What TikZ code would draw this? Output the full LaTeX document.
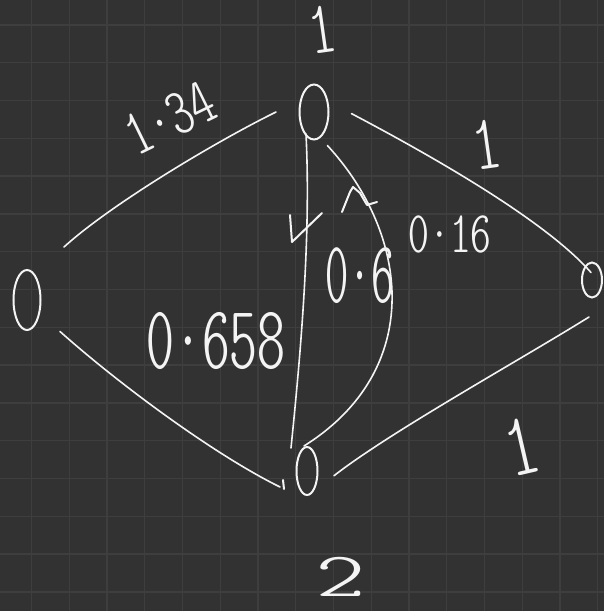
\documentclass[tikz,border=0pt]{standalone}
\usepackage{fontspec}
\newfontfamily\hand{lmmonoltcond10-regular.otf}
\usetikzlibrary{shapes.geometric}
\definecolor{bg}{HTML}{323232}
\definecolor{gridc}{HTML}{3E3E3E}
\definecolor{ink}{HTML}{F4F4F4}
\newcommand\fsz[1]{\fontsize{#1}{#1}\selectfont}
\begin{document}
\begin{tikzpicture}[x=1pt,y=-1pt,
  vert/.style={ellipse, draw=ink, line width=2pt, inner sep=0pt},
  edge/.style={draw=ink, line width=1.6pt, line cap=round, line join=round},
  tipmark/.style={draw=ink, line width=2pt, line cap=round, line join=round},
  lab/.style={text=ink, inner sep=0pt, font=\hand},
  gridline/.style={draw=gridc, line width=1.3pt}]
% background and grid
\fill[bg] (0,0) rectangle (604,611);
\useasboundingbox (0,0) rectangle (604,611);
\foreach \i in {0,...,15} {
  \draw[gridline] ({31.5+37.75*\i},0) -- ({31.5+37.75*\i},611);
  \draw[gridline] (0,{24.9+37.8*\i}) -- (604,{24.9+37.8*\i});
}
% vertices
\node[vert, minimum width=27pt, minimum height=60pt] (v0) at (27,300) {};
\node[vert, minimum width=29pt, minimum height=55pt] (v1) at (314,112) {};
\node[vert, minimum width=21pt, minimum height=48pt] (v2) at (307,471) {};
\node[vert, minimum width=20pt, minimum height=35pt] (v3) at (592,280) {};
% vertex labels
\node[lab, font=\hand\fsz{75}, rotate=8] (n1) at (322,30) {1};
\node[lab, font=\hand\fsz{63}, xscale=2.2] (n2) at (341,577) {2};
% edges
\draw[edge] ([shift={(-22.5,0)}]v1.west) .. controls (215,142) and (110,205) .. ([shift={(37,-22)}]v0.north);
\draw[edge] ([shift={(33,0.5)}]v0.south) .. controls (120,385) and (215,455) .. ([shift={(-15.5,16)}]v2.west);
\draw[edge] ([shift={(22,1.6)}]v1.east) .. controls (430,155) and (545,220) .. ([shift={(-1,11)}]v3.north);
\draw[edge] ([shift={(15.5,4.7)}]v2.east) .. controls (390,432) and (520,360) .. ([shift={(-3,18.5)}]v3.south);
\draw[edge] ([shift={(-8,-6.5)}]v1.south) .. controls (311,235) and (301,350) .. ([shift={(-16,2)}]v2.north);
\draw[edge] ([shift={(13.4,5)}]v1.south) .. controls (410,235) and (425,370) .. ([shift={(-3,0)}]v2.north);
% hand-drawn arrow marks
\draw[tipmark] (290,215) -- (292,242) -- (322,213);
\draw[tipmark] (342,212) -- (350,192) -- (353,187) -- (360,193) -- (367,205) -- (377,202);
\draw[tipmark] (283,480) -- (284,489);
% edge labels
\node[lab, font=\hand\fsz{66}, rotate=26] (w01) at (170,118) {1·34};
\node[lab, font=\hand\fsz{78}, rotate=8] (w13) at (487,145) {1};
\node[lab, font=\hand\fsz{90}, rotate=13] (w23) at (522,447) {1};
\node[lab, font=\hand\fsz{59}] (w12b) at (450,234) {0·16};
\node[lab, font=\hand\fsz{88}, xscale=0.75] (w12a) at (360,276) {0·6};
\node[lab, font=\hand\fsz{90}, xscale=0.88] (w02) at (216,341) {0·658};
\end{tikzpicture}
\end{document}
